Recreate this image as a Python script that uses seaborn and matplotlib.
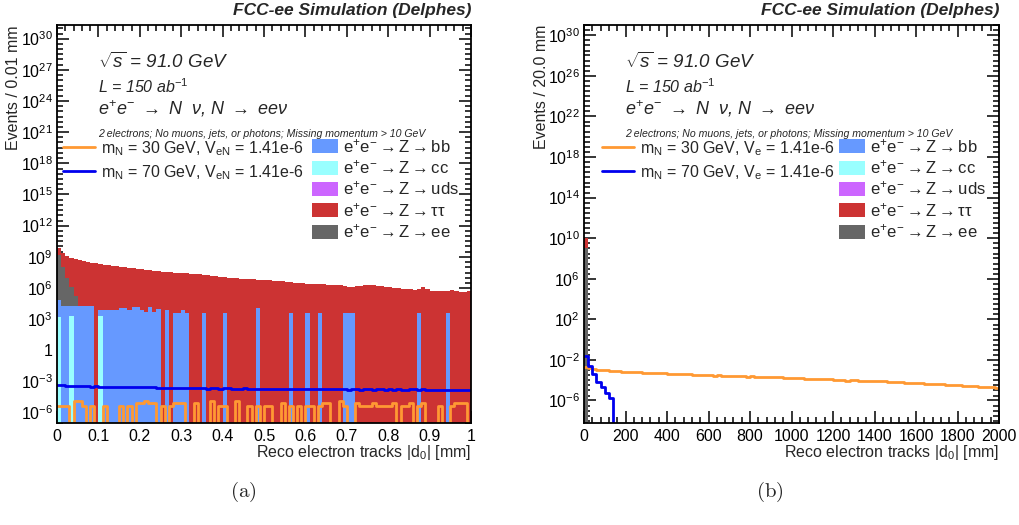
import numpy as np
import pandas as pd
import matplotlib
matplotlib.use("Agg")
import matplotlib.pyplot as plt
import matplotlib.ticker as mticker
from matplotlib.lines import Line2D
from matplotlib.patches import Patch
import seaborn as sns

# ---------------- data ----------------
# panel (a): 100 bins of 0.01 mm, panel (b): 100 bins of 20 mm
n_bins = 100
range_a = (0.0, 1.0)
range_b = (0.0, 2000.0)

# Z -> tautau (log10 of events per bin), panel (a)
tautau_a_log10 = [
    9.80, 9.35, 9.10, 8.90, 8.75, 8.65, 8.55, 8.45, 8.40, 8.35,
    8.30, 8.25, 8.20, 8.15, 8.10, 8.03, 8.00, 7.95, 7.90, 7.85,
    7.80, 7.75, 7.70, 7.65, 7.60, 7.55, 7.52, 7.50, 7.47, 7.45,
    7.42, 7.40, 7.38, 7.36, 7.30, 7.25, 7.20, 7.15, 7.10, 7.05,
    7.02, 7.00, 6.96, 6.93, 6.90, 6.87, 6.85, 6.82, 6.80, 6.77,
    6.75, 6.73, 6.70, 6.67, 6.63, 6.60, 6.56, 6.52, 6.48, 6.45,
    6.42, 6.40, 6.40, 6.38, 6.33, 6.32, 6.30, 6.30, 6.28, 6.20,
    6.08, 6.05, 6.15, 6.22, 6.25, 6.25, 6.24, 6.20, 6.15, 6.12,
    6.05, 6.00, 5.95, 5.93, 5.90, 5.85, 5.82, 5.90, 6.05, 5.85,
    5.72, 5.70, 5.72, 5.70, 5.68, 5.78, 5.72, 5.60, 5.58, 5.75,
]
# sparse backgrounds: {bin index: log10 events}
ee_a_log10 = {0: 9.2, 1: 8.0, 2: 7.0, 3: 6.1, 4: 5.2}
bb_a_log10 = {
    0: 4.8, 1: 4.3, 2: 4.3, 3: 4.25, 4: 4.3, 5: 4.3, 6: 4.25, 7: 4.3, 8: 4.3,
    10: 3.9, 11: 3.85, 12: 3.85, 13: 3.85, 14: 3.85, 15: 4.05, 16: 4.05,
    17: 3.85, 18: 4.15, 19: 4.15, 20: 3.9, 21: 3.7, 22: 4.2, 23: 3.7, 24: 4.0,
    26: 3.9, 28: 3.55, 29: 3.55, 30: 3.85, 31: 3.55, 35: 3.55, 40: 3.55,
    48: 4.1, 56: 3.55, 60: 3.55, 63: 3.55, 69: 3.55, 70: 3.55, 71: 3.55,
    87: 3.55, 94: 3.55,
}
cc_a_log10 = {0: 3.2, 3: 3.3, 10: 3.3}
uds_a_log10 = {}

# signal m_N = 30 GeV: unweighted entries per bin, times the event weight
m30_a_weight = 4.0e-6
m30_a_entries = [
    1, 1, 1, 0, 3, 3, 1, 0, 1, 0,
    0, 1, 0, 0, 0, 1, 0, 1, 0, 2,
    2, 3, 2, 2, 0, 1, 0, 1, 2, 2,
    2, 0, 0, 2, 0, 0, 0, 3, 0, 1,
    1, 0, 0, 3, 0, 0, 1, 0, 1, 0,
    1, 1, 0, 0, 2, 0, 1, 0, 1, 0,
    1, 1, 0, 1, 2, 2, 0, 0, 3, 1,
    0, 0, 2, 1, 1, 1, 2, 1, 1, 1,
    1, 2, 0, 1, 1, 2, 0, 1, 2, 0,
    0, 0, 1, 0, 0, 1, 2, 2, 2, 0,
]
# signal m_N = 70 GeV (log10), panel (a)
m70_a_log10 = [
    -3.38, -3.38, -3.40, -3.45, -3.47, -3.47, -3.46, -3.48, -3.50, -3.47,
    -3.52, -3.50, -3.52, -3.53, -3.51, -3.55, -3.53, -3.54, -3.56, -3.55,
    -3.57, -3.58, -3.56, -3.58, -3.60, -3.62, -3.60, -3.63, -3.62, -3.62,
    -3.64, -3.66, -3.65, -3.64, -3.66, -3.66, -3.68, -3.65, -3.67, -3.68,
    -3.66, -3.67, -3.70, -3.69, -3.68, -3.66, -3.68, -3.70, -3.69, -3.70,
    -3.71, -3.72, -3.72, -3.74, -3.71, -3.73, -3.74, -3.72, -3.73, -3.75,
    -3.74, -3.72, -3.76, -3.73, -3.75, -3.77, -3.74, -3.73, -3.76, -3.75,
    -3.78, -3.75, -3.77, -3.79, -3.75, -3.76, -3.78, -3.77, -3.76, -3.78,
    -3.76, -3.79, -3.77, -3.80, -3.78, -3.77, -3.77, -3.79, -3.76, -3.80,
    -3.80, -3.78, -3.79, -3.82, -3.81, -3.79, -3.80, -3.83, -3.82, -3.85,
]

# panel (b)
tautau_b_log10 = {0: 10.0}
ee_b_log10 = {0: 9.0}
m30_b_log10 = [
    -2.66, -2.80, -2.90, -2.96, -3.00, -3.04, -3.07, -3.10, -3.14, -3.16,
    -3.18, -3.20, -3.22, -3.24, -3.25, -3.27, -3.29, -3.31, -3.32, -3.34,
    -3.36, -3.37, -3.39, -3.40, -3.42, -3.44, -3.45, -3.47, -3.49, -3.50,
    -3.52, -3.55, -3.54, -3.56, -3.58, -3.57, -3.59, -3.61, -3.62, -3.65,
    -3.63, -3.66, -3.68, -3.67, -3.69, -3.71, -3.70, -3.72, -3.74, -3.76,
    -3.77, -3.79, -3.81, -3.84, -3.86, -3.90, -3.88, -3.91, -3.93, -3.92,
    -3.95, -3.97, -3.99, -4.05, -4.02, -4.00, -4.04, -4.07, -4.06, -4.09,
    -4.11, -4.13, -4.12, -4.15, -4.17, -4.19, -4.21, -4.24, -4.26, -4.30,
    -4.27, -4.32, -4.34, -4.36, -4.35, -4.38, -4.41, -4.43, -4.46, -4.50,
    -4.52, -4.57, -4.55, -4.58, -4.61, -4.63, -4.66, -4.68, -4.71, -4.74,
]
m70_b_log10 = {0: -1.6, 1: -2.65, 2: -3.4, 3: -4.15, 4: -4.7, 5: -5.3, 6: -5.8}

bkg_labels = ["bb", "cc", "uds", "ττ", "ee"]
sig_labels_a = [r"m$_{\mathrm{N}}$ = 30 GeV, V$_{\mathrm{eN}}$ = 1.41e-6",
                r"m$_{\mathrm{N}}$ = 70 GeV, V$_{\mathrm{eN}}$ = 1.41e-6"]
sig_labels_b = [r"m$_{\mathrm{N}}$ = 30 GeV, V$_{\mathrm{e}}$ = 1.41e-6",
                r"m$_{\mathrm{N}}$ = 70 GeV, V$_{\mathrm{e}}$ = 1.41e-6"]

# ---------------- style ----------------
c_bb = "#6699ff"
c_cc = "#99ffff"
c_uds = "#cc66ff"
c_tt = "#cc3333"
c_ee = "#666666"
c_m30 = "#ff9933"
c_m70 = "#0000ee"
bkg_colors = [c_bb, c_cc, c_uds, c_tt, c_ee]

sns.set_style("ticks")
plt.rcParams["font.family"] = ["Liberation Sans", "DejaVu Sans"]
plt.rcParams["mathtext.fontset"] = "custom"
plt.rcParams["mathtext.rm"] = "Liberation Sans"
plt.rcParams["mathtext.it"] = "Liberation Sans:italic"
plt.rcParams["mathtext.bf"] = "Liberation Sans:bold"

W, H = 1019, 525
fig = plt.figure(figsize=(W / 100, H / 100), dpi=100)


def full(values):
    if isinstance(values, dict):
        arr = np.zeros(n_bins)
        for i, v in values.items():
            arr[i] = 10.0 ** v
        return arr
    return 10.0 ** np.asarray(values, dtype=float)


def hist_frame(brange, heights):
    lo, hi = brange
    width = (hi - lo) / n_bins
    centers = lo + width * (np.arange(n_bins) + 0.5)
    return pd.DataFrame({"x": centers, "w": heights})


def fill_hist(ax, brange, heights, color):
    sns.histplot(data=hist_frame(brange, heights), x="x", weights="w",
                 bins=n_bins, binrange=brange, element="step", fill=True,
                 color=color, alpha=1, linewidth=0, ax=ax)


def line_hist(ax, brange, heights, color):
    sns.histplot(data=hist_frame(brange, heights), x="x", weights="w",
                 bins=n_bins, binrange=brange, element="step", fill=False,
                 color=color, linewidth=2.0, ax=ax)


def log_label(v, pos):
    if v <= 0:
        return ""
    k = int(round(np.log10(v)))
    if k == 0:
        return "1"
    return r"$10^{%d}$" % k


def make_panel(box, brange, layers, m30, m70, ylim, ystep, xmajor, xminor,
               xfmt, ylabel, sig_labels, sig_x, caption, caption_x):
    l, t, r, b = box
    ax = fig.add_axes([l / W, 1 - b / H, (r - l) / W, (b - t) / H])
    ax.set_yscale("log")
    for heights, color in layers:
        fill_hist(ax, brange, heights, color)
    line_hist(ax, brange, m30, c_m30)
    line_hist(ax, brange, m70, c_m70)

    ax.set_xlim(*brange)
    ax.set_ylim(*ylim)
    ax.set_xlabel("")
    ax.set_ylabel("")

    ax.yaxis.set_major_locator(mticker.FixedLocator([10.0 ** k for k in range(-6, 31, ystep)]))
    minors = [m * 10.0 ** k for k in range(-10, 33) for m in (1.0, 3.0)]
    ax.yaxis.set_minor_locator(mticker.FixedLocator(minors))
    ax.yaxis.set_major_formatter(mticker.FuncFormatter(log_label))
    ax.yaxis.set_minor_formatter(mticker.NullFormatter())
    ax.xaxis.set_major_locator(mticker.MultipleLocator(xmajor))
    ax.xaxis.set_minor_locator(mticker.MultipleLocator(xminor))
    ax.xaxis.set_major_formatter(mticker.FuncFormatter(xfmt))
    ax.xaxis.set_minor_formatter(mticker.NullFormatter())
    ax.tick_params(which="both", direction="in", top=True, right=True,
                   width=1.1, colors="black")
    ax.tick_params(which="major", length=8.5)
    ax.tick_params(which="minor", length=4.3)
    ax.tick_params(axis="x", pad=4, labelsize=11.5)
    ax.tick_params(axis="y", pad=3, labelsize=11.5)
    for s in ax.spines.values():
        s.set_linewidth(1.3)
        s.set_color("black")

    w, h = r - l, b - t
    fx = lambda px: (px - l) / w
    fy = lambda py: (b - py) / h

    ax.text(fx(l + 41), fy(62), r"$\sqrt{s}$ = 91.0 GeV", style="italic",
            fontsize=13.5, va="center", transform=ax.transAxes)
    ax.text(fx(l + 41), fy(87), r"L = 150 ab$^{-1}$", style="italic",
            fontsize=11.5, va="center", transform=ax.transAxes)
    ax.text(fx(l + 41), fy(109),
            r"e$^{+}$e$^{-}$ $\rightarrow$ N  ν, N $\rightarrow$ eeν",
            style="italic", fontsize=13, va="center", transform=ax.transAxes)
    ax.text(fx(l + 41), fy(134),
            "2 electrons; No muons, jets, or photons; Missing momentum > 10 GeV",
            style="italic", fontsize=7.6, va="center", transform=ax.transAxes)

    sig_handles = [Line2D([], [], color=c_m30, lw=2), Line2D([], [], color=c_m70, lw=2)]
    leg1 = ax.legend(sig_handles, sig_labels, loc="upper left",
                     bbox_to_anchor=(fx(l + sig_x), fy(139)), frameon=False,
                     fontsize=11.5, handlelength=2.0, handletextpad=0.35,
                     labelspacing=0.32, borderpad=0, borderaxespad=0)
    ax.add_artist(leg1)

    bkg_handles = [Patch(facecolor=c, edgecolor="none") for c in bkg_colors]
    bkg_texts = [r"e$^{+}$e$^{-}$$\rightarrow$Z$\rightarrow$" + s for s in bkg_labels]
    ax.legend(bkg_handles, bkg_texts, loc="upper left",
              bbox_to_anchor=(fx(l + 255), fy(137)), frameon=False,
              fontsize=12, handlelength=1.55, handleheight=0.92,
              handletextpad=0.3, labelspacing=0.2, borderpad=0,
              borderaxespad=0)

    fig.text(r / W, 1 - 10 / H, "FCC-ee Simulation (Delphes)", ha="right",
             va="center", fontsize=12.5, fontweight="bold", style="italic")
    fig.text((l - 43) / W, 1 - t / H, ylabel, rotation=90, ha="center",
             va="top", fontsize=11.5)
    fig.text(r / W, 1 - 453 / H, r"Reco electron tracks |d$_{0}$| [mm]",
             ha="right", va="center", fontsize=11.5)
    fig.text(caption_x / W, 1 - 492 / H, r"$(\mathrm{%s})$" % caption,
             ha="center", va="center", fontsize=15, math_fontfamily="cm")
    return ax


layers_a = [(full(tautau_a_log10), c_tt), (full(ee_a_log10), c_ee),
            (full(bb_a_log10), c_bb), (full(cc_a_log10), c_cc),
            (full(uds_a_log10), c_uds)]
layers_b = [(full(tautau_b_log10), c_tt), (full(ee_b_log10), c_ee)]

make_panel((57, 25, 471, 423), range_a, layers_a,
           m30_a_weight * np.asarray(m30_a_entries, dtype=float),
           full(m70_a_log10), (1e-7, 2e31), 3, 0.1, 0.02,
           lambda v, p: "%g" % round(v, 2), "Events / 0.01 mm",
           sig_labels_a, 6, "a", 243)
make_panel((584, 25, 999, 423), range_b, layers_b,
           full(m30_b_log10), full(m70_b_log10), (6e-9, 1e31), 4, 200, 40,
           lambda v, p: "%d" % round(v), "Events / 20.0 mm",
           sig_labels_b, 18, "b", 770)

fig.savefig("out.png", dpi=100)
